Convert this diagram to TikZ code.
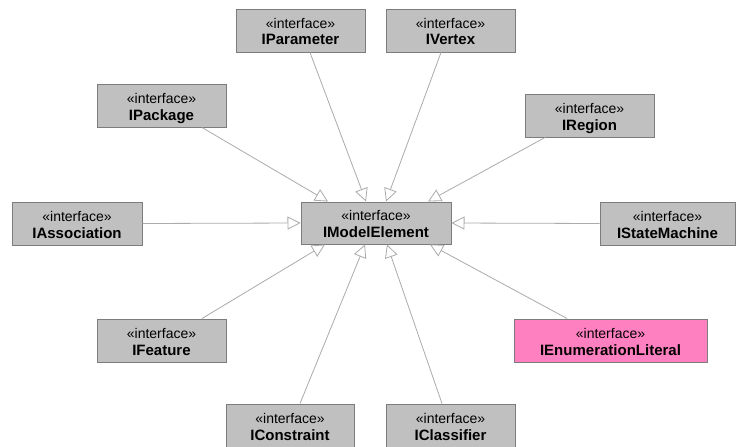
\documentclass[tikz,border=0pt]{standalone}
\usepackage{fontspec}
\setmainfont{Liberation Sans}
\usetikzlibrary{arrows.meta}
\definecolor{boxfill}{HTML}{C0C0C0}
\definecolor{boxline}{HTML}{7C7C7C}
\definecolor{pinkfill}{HTML}{FF80C0}
\definecolor{linkcol}{HTML}{ABABAB}
% two-line UML interface label: stereotype above, bold name below
\newcommand\ifacetext[1]{\vbox{\baselineskip=17pt\lineskiplimit=-20pt
  \halign{\hfil##\hfil\cr
    \fontsize{14}{17}\selectfont «interface»\cr
    \fontsize{15}{17}\selectfont\bfseries #1\cr}}}
\begin{document}
\begin{tikzpicture}[x=1pt,y=-1pt,
  iface/.style={draw=boxline, line width=1pt, fill=boxfill,
    minimum width=129pt, minimum height=43pt, inner sep=0pt,
    text height=33pt, text depth=4pt, text=black},
  gen/.style={draw=linkcol, line width=0.8pt,
    -{Triangle[length=13pt,width=13pt,fill=white,line width=0.8pt]}}]
\fill[white] (0,0) rectangle (740,447);
\useasboundingbox (0,0) rectangle (740,447);

% interfaces
\node[iface] (param)      at (300.5,30.5)  {\ifacetext{IParameter}};
\node[iface] (vertex)     at (450.5,30.5)  {\ifacetext{IVertex}};
\node[iface] (pkg)        at (161.5,105.5) {\ifacetext{IPackage}};
\node[iface] (region)     at (589.5,115.5) {\ifacetext{IRegion}};
\node[iface, minimum width=130pt] (assoc) at (77,223.5) {\ifacetext{IAssociation}};
\node[iface, minimum width=150pt, minimum height=42pt] (me) at (376,223) {\ifacetext{IModelElement}};
\node[iface, minimum width=135pt] (sm)    at (667.5,223.5) {\ifacetext{IStateMachine}};
\node[iface] (feature)    at (161.5,340.5) {\ifacetext{IFeature}};
\node[iface, minimum width=193pt, fill=pinkfill] (enum) at (610.5,340.5) {\ifacetext{IEnumerationLiteral}};
\node[iface, minimum width=128pt] (constraint) at (290,425.5) {\ifacetext{IConstraint}};
\node[iface] (classifier) at (450.5,425.5) {\ifacetext{IClassifier}};

% generalizations towards IModelElement
\draw[gen] ([xshift=40.5pt]pkg.south)     -- ([xshift=-48pt]me.north);
\draw[gen] ([xshift=9.5pt]param.south)    -- ([xshift=-10pt]me.north);
\draw[gen] ([xshift=-9.5pt]vertex.south)  -- ([xshift=10pt]me.north);
\draw[gen] ([xshift=-44.5pt]region.south) -- ([xshift=52pt]me.north);
\draw[gen] (assoc.east) -- (me.west);
\draw[gen] (sm.west) -- (me.east);
\draw[gen] ([xshift=40.5pt]feature.north)     -- ([xshift=-51pt]me.south);
\draw[gen] ([xshift=10pt]constraint.north)    -- ([xshift=-11pt]me.south);
\draw[gen] ([xshift=-8.5pt]classifier.north)  -- ([xshift=11pt]me.south);
\draw[gen] ([xshift=-43.5pt]enum.north)       -- ([xshift=54pt]me.south);
\end{tikzpicture}
\end{document}
